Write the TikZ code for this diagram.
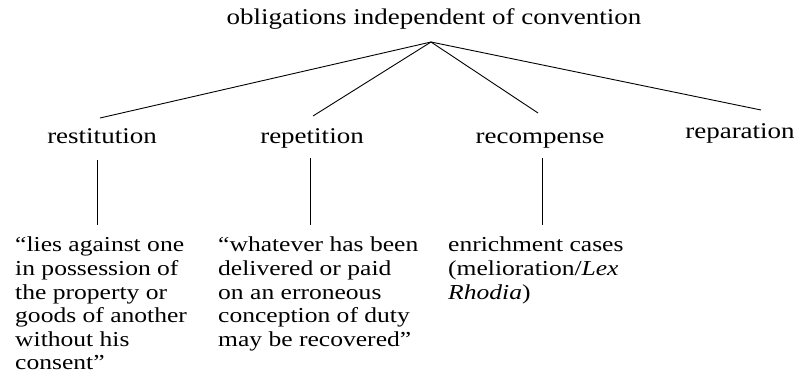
\documentclass[tikz,border=0pt]{standalone}
\usepackage{fontspec}
\setmainfont[FakeStretch=1.2]{Liberation Serif}
\begin{document}
\begin{tikzpicture}[x=1pt,y=-1pt,
  every node/.style={inner sep=0pt},
  head/.style={anchor=base, font=\fontsize{22.5}{26}\selectfont},
  quote/.style={anchor=north west, align=left, font=\fontsize{21.3}{23.6}\selectfont},
  link/.style={line width=0.9pt}]
\useasboundingbox (0,0) rectangle (804,389);

% top heading and the point where the branches meet
\node[head] (top) at (434,24) {obligations independent of convention};
\coordinate (apex) at (431,42);

% the four kinds of obligation
\node[head] (rest) at (102,143) {restitution};
\node[head] (rep) at (312,143) {repetition};
\node[head] (rec) at (540,143) {recompense};
\node[head] (repa) at (740,138) {reparation};

\coordinate (restT) at (100,118);
\coordinate (repT) at (313,116);
\coordinate (recT) at (538,113);
\coordinate (repaT) at (761,110);

\draw[link] (apex) -- (restT);
\draw[link] (apex) -- (repT);
\draw[link] (apex) -- (recT);
\draw[link] (apex) -- (repaT);

% descriptions below
\node[quote] (lies) at (15,237) {``lies against one\\in possession of\\the property or\\goods of another\\without his\\consent''};
\node[quote] (what) at (218,237) {``whatever has been\\delivered or paid\\on an erroneous\\conception of duty\\may be recovered''};
\node[quote] (enr) at (448,237) {enrichment cases\\(melioration/\textit{Lex}\\\textit{Rhodia})};

\coordinate (restB) at (97,160);
\coordinate (liesT) at (97,225);
\coordinate (repB) at (310,158);
\coordinate (whatT) at (310,225);
\coordinate (recB) at (542,158);
\coordinate (enrT) at (542,225);

\draw[line width=0.6pt] (restB) -- (liesT);
\draw[line width=0.6pt] (repB) -- (whatT);
\draw[line width=0.6pt] (recB) -- (enrT);
\end{tikzpicture}
\end{document}
